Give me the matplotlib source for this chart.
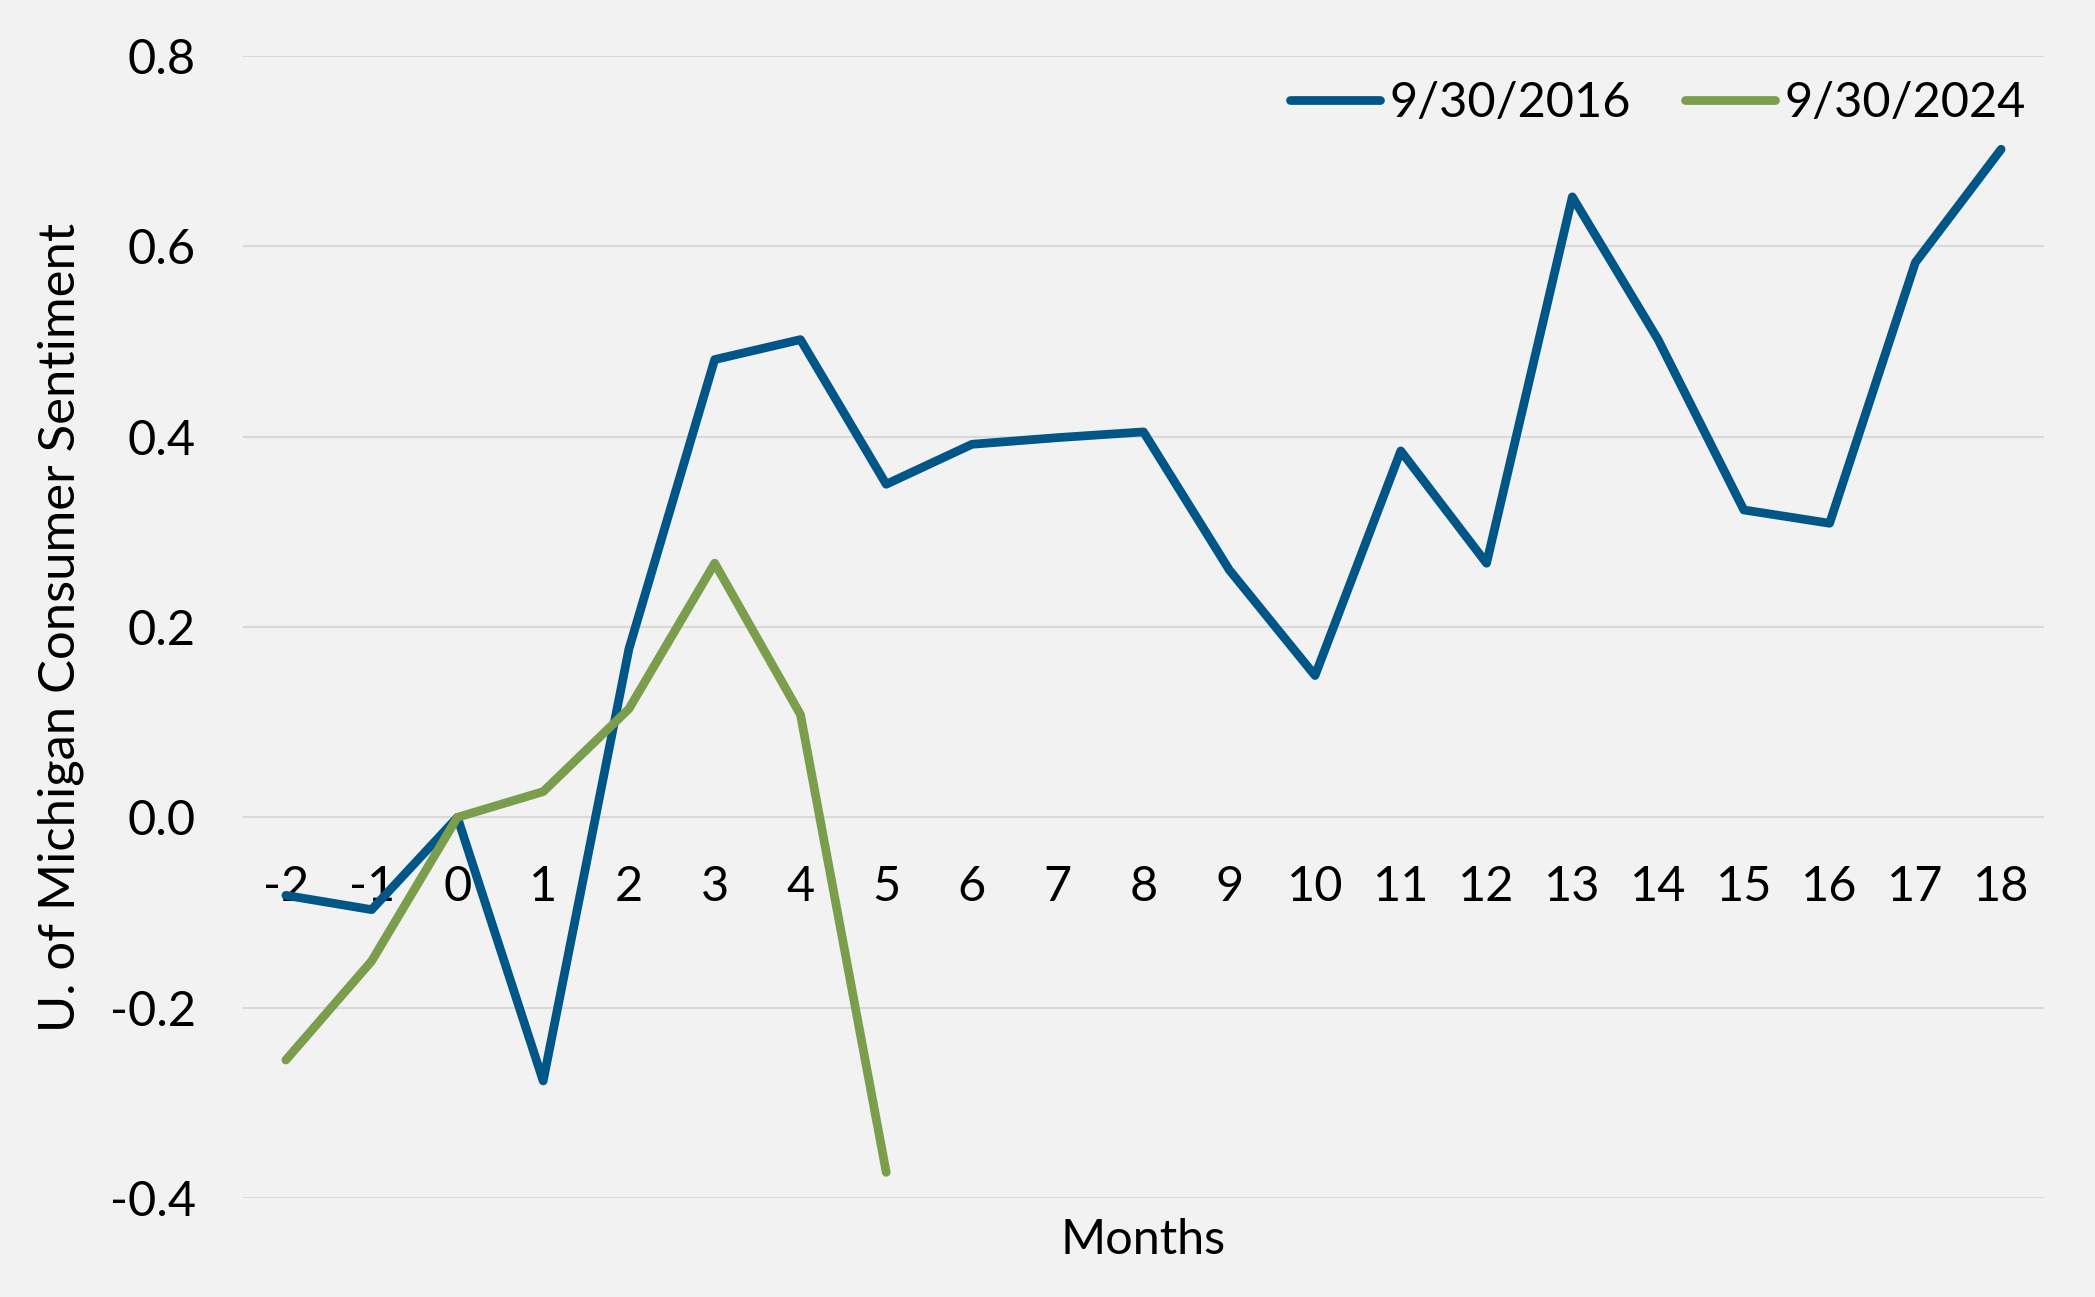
import matplotlib
matplotlib.use("Agg")
import matplotlib.pyplot as plt
from matplotlib.ticker import FormatStrFormatter

months = list(range(-2, 19))
sent_2016 = [-0.082, -0.097, 0.0, -0.277, 0.177, 0.481, 0.502, 0.350, 0.392, 0.399, 0.405,
             0.260, 0.149, 0.385, 0.267, 0.652, 0.502, 0.323, 0.309, 0.583, 0.702]
months_2024 = list(range(-2, 6))
sent_2024 = [-0.255, -0.151, 0.0, 0.027, 0.114, 0.267, 0.108, -0.373]
y_ticks = [-0.4, -0.2, 0.0, 0.2, 0.4, 0.6, 0.8]

plt.rcParams['font.family'] = ['Lato', 'DejaVu Sans']
FS = 35
bg = '#F2F2F2'

fig = plt.figure(figsize=(20.95, 12.97), dpi=100, facecolor=bg)
ax = fig.add_axes([243/2095, 1-1198/1297, (2044-243)/2095, (1198-56)/1297])
ax.set_facecolor(bg)

ax.plot(months, sent_2016, color='#005687', lw=6.3, solid_capstyle='round',
        solid_joinstyle='round', label='9/30/2016', zorder=3)
ax.plot(months_2024, sent_2024, color='#7A9E4B', lw=6.3, solid_capstyle='round',
        solid_joinstyle='round', label='9/30/2024', zorder=3)

ax.set_xlim(-2.5, 18.5)
ax.set_ylim(-0.4, 0.8)
ax.set_yticks(y_ticks)
ax.yaxis.set_major_formatter(FormatStrFormatter('%.1f'))
ax.set_xticks(months)
ax.set_xticklabels([str(m) for m in months])
ax.grid(axis='y', color='#D9D9D9', lw=1.5, zorder=0)
ax.set_axisbelow(True)
for s in ax.spines.values():
    s.set_visible(False)
ax.spines['bottom'].set_position(('data', 0))
ax.tick_params(axis='x', length=0, pad=34, labelsize=FS)
ax.tick_params(axis='y', length=0, pad=34, labelsize=FS)

fig.text(61/2095, 1-(56+1198)/2/1297, 'U. of Michigan Consumer Sentiment', rotation=90,
         ha='center', va='center', fontsize=36.5)
fig.text((243+2044)/2/2095, 1-1240/1297, 'Months', ha='center', va='center', fontsize=FS)

ax.legend(loc='center right', bbox_to_anchor=(2026/2095, 1-103/1297),
          bbox_transform=fig.transFigure, ncol=2, frameon=False, fontsize=FS,
          handlelength=1.85, handletextpad=0.2, columnspacing=1.1,
          borderpad=0, borderaxespad=0)

fig.savefig('out.png', dpi=100, facecolor=bg)
